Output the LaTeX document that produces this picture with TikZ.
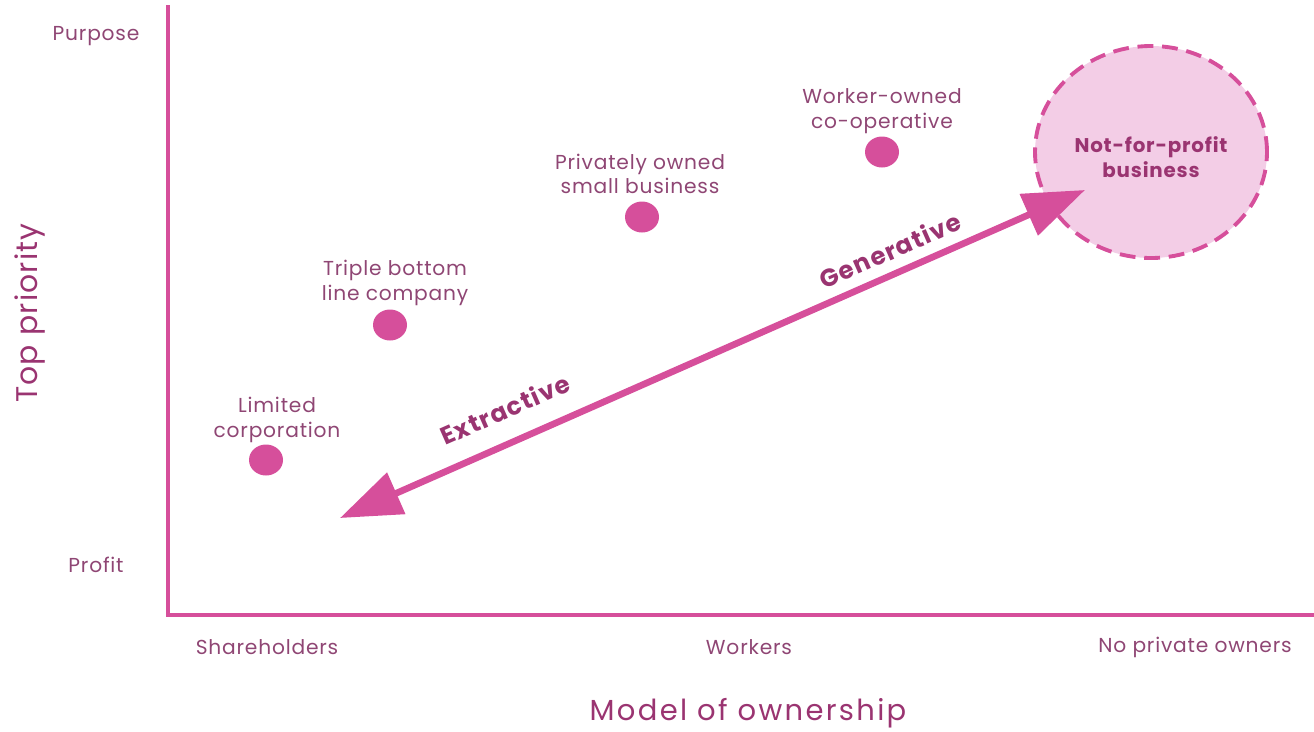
\documentclass[tikz,border=0pt]{standalone}
\usepackage{fontspec}
\setmainfont{Poppins}
\newfontfamily\labelfont[LetterSpace=4]{Poppins}
\newfontfamily\titlefont[LetterSpace=8]{Poppins}
\newfontfamily\flowfont[LetterSpace=5]{Poppins}
\usepackage{xcolor}
\usepackage{tikz}
\usetikzlibrary{arrows.meta}

\definecolor{magenta}{HTML}{D64F9B}
\definecolor{labeltext}{HTML}{8F4674}
\definecolor{boldtext}{HTML}{9A3471}
\definecolor{softpink}{HTML}{F3CDE6}

\tikzset{
  axisline/.style={draw=magenta, line width=2.8pt},
  smalllabel/.style={text=labeltext, font=\labelfont\fontsize{11.5}{14}\selectfont, align=center},
  axistitle/.style={text=boldtext, font=\titlefont\fontsize{16.5}{18}\selectfont},
  dot/.style={ellipse, fill=magenta, minimum width=34*0.02cm, minimum height=31*0.02cm, inner sep=0pt},
  flowlabel/.style={text=boldtext, font=\flowfont\bfseries\fontsize{14}{16}\selectfont, rotate=23.8}
}
\usetikzlibrary{shapes.geometric}

\begin{document}
\begin{tikzpicture}[x=0.02cm, y=-0.02cm]
\useasboundingbox (0,0) rectangle (1314,731);

% axes
\coordinate (top) at (168,5);
\coordinate (origin) at (168,615);
\coordinate (right) at (1314,615);
\draw[axisline] (top)--(origin)--(right);

\node[smalllabel] (purpose) at (96,36) {Purpose};
\node[smalllabel] (profit) at (96,565) {Profit};
\node[axistitle, font=\labelfont\fontsize{17}{18}\selectfont, rotate=90] (priority) at (30,313) {Top priority};

\node[smalllabel] (shareholders) at (267,647) {Shareholders};
\node[smalllabel] (workers) at (749,647) {Workers};
\node[smalllabel] (noowners) at (1195,647) {No private owners};
\node[axistitle] (ownership) at (748,713) {Model of ownership};

% business models
\node[dot] (limited) at (266,460) {};
\node[smalllabel] (limitedtxt) at (277,420) {Limited\\corporation};

\node[dot] (triple) at (390,325) {};
\node[smalllabel] (tripletxt) at (395,283) {Triple bottom\\line company};

\node[dot] (private) at (642,217) {};
\node[smalllabel] (privatetxt) at (640,174) {Privately owned\\small business};

\node[dot] (coop) at (882,152) {};
\node[smalllabel] (cooptxt) at (882,111) {Worker-owned\\co-operative};

\node[ellipse, draw=magenta, fill=softpink, line width=2.2pt, dash pattern=on 9pt off 5pt,
      minimum width=232*0.02cm, minimum height=212*0.02cm] (nonprofit) at (1151,152) {};
\node[text=boldtext, font=\labelfont\bfseries\fontsize{11.3}{14}\selectfont, align=center] (nonprofittxt) at (1151,157) {Not-for-profit\\business};

% direction arrow
\coordinate (extract) at (340,518);
\coordinate (generate) at (1085,190);
\draw[magenta, line width=3.8pt, {Triangle[length=35pt,width=25pt]}-{Triangle[length=35pt,width=25pt]}] (extract)--(generate);

\node[flowlabel] (extractive) at (505,409) {Extractive};
\node[flowlabel] (generative) at (890,250) {Generative};

\end{tikzpicture}
\end{document}
